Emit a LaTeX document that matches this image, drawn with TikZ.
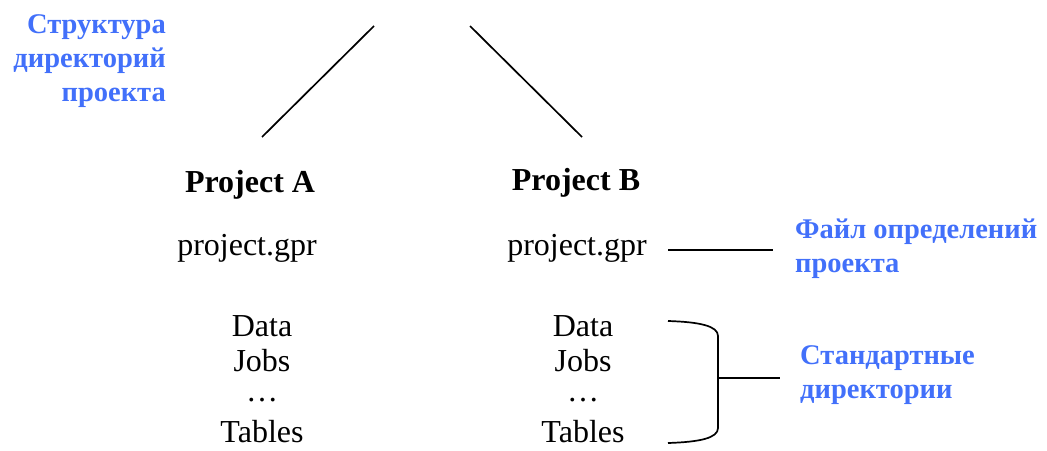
\documentclass[tikz,border=0pt]{standalone}
\usepackage{fontspec}
\setmainfont{Liberation Serif}
\newfontfamily\notefont{Liberation Serif}[BoldFont={Liberation Serif Bold}]
\usetikzlibrary{positioning}
\definecolor{labelblue}{RGB}{66,112,250}
\tikzset{
  note/.style={text=labelblue, font=\notefont\fontsize{28.5}{34}\selectfont\bfseries, inner sep=0pt},
  plain/.style={font=\fontsize{32}{37}\selectfont, inner sep=0pt},
  head/.style={font=\fontsize{32}{37}\selectfont\bfseries, inner sep=0pt},
  link/.style={line width=1.7pt},
}
\begin{document}
\begin{tikzpicture}[x=1pt, y=-1pt] % {{{
\useasboundingbox (0,0) rectangle (1047,450);
% Notes {{{
\node[note, align=right, anchor=north east] (rootnote) at (166,14)
  {Структура\\директорий\\проекта};
\node[note, align=left, anchor=north west] (gprnote) at (795,219)
  {Файл определений\\проекта};
\node[note, align=left, anchor=north west] (dirnote) at (800,345)
  {Стандартные\\директории};
% }}}
% Project A {{{
\node[head] (projA) at (250,185) {Project A};
\node[plain] (gprA) at (247,248) {project.gpr};
\node[plain] (dataA) at (262,326) {Data};
\node[plain] (jobsA) at (262,361) {Jobs};
\node[plain] (dotsA) at (262,400) {\dots};
\node[plain] (tablesA) at (262,432) {Tables};
% }}}
% Project B {{{
\node[head] (projB) at (576,183) {Project B};
\node[plain] (gprB) at (577,248) {project.gpr};
\node[plain] (dataB) at (583,326) {Data};
\node[plain] (jobsB) at (583,361) {Jobs};
\node[plain] (dotsB) at (583,400) {\dots};
\node[plain] (tablesB) at (583,432) {Tables};
% }}}
% Tree and links {{{
\coordinate (rootL) at (374,26);
\coordinate (rootR) at (470,26);
\coordinate (legA) at (262,137);
\coordinate (legB) at (582,137);
\draw[link] (rootL) -- (legA);
\draw[link] (rootR) -- (legB);
\coordinate (gprL) at (668,250);
\coordinate (gprR) at (773,250);
\draw[link] (gprL) -- (gprR);
\coordinate (braceTop) at (668,321);
\coordinate (braceBot) at (668,443);
\coordinate (braceMid) at (718,378);
\coordinate (braceTip) at (780,378);
\draw[link] (braceTop) .. controls (700,322) and (718,326) .. (718,336)
  -- (718,428) .. controls (718,438) and (700,442) .. (braceBot);
\draw[link] (braceMid) -- (braceTip);
% }}}
\end{tikzpicture} % }}}
\end{document}
